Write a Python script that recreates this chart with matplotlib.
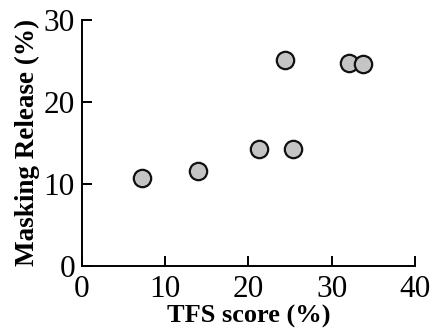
import matplotlib
matplotlib.use('Agg')
import matplotlib.pyplot as plt

# Data
tfs_score = [7.2, 14.0, 21.3, 25.4, 24.4, 32.1, 33.8]
masking_release = [10.7, 11.6, 14.2, 14.2, 25.1, 24.8, 24.6]

x_ticks = [0, 10, 20, 30, 40]
y_ticks = [0, 10, 20, 30]

plt.rcParams['font.family'] = ['Liberation Serif', 'DejaVu Serif']

fig = plt.figure(figsize=(4.31, 3.33), dpi=100)
ax = fig.add_axes([0.19, 0.202, 0.773, 0.738])

ax.plot(tfs_score, masking_release, linestyle='none', marker='o',
        markersize=12.5, markerfacecolor='#c4c4c4',
        markeredgecolor='#111111', markeredgewidth=1.6, clip_on=False)

ax.set_xlim(0, 40)
ax.set_ylim(0, 30)
ax.set_xticks(x_ticks)
ax.set_yticks(y_ticks)

for side in ['top', 'right']:
    ax.spines[side].set_visible(False)
for side in ['left', 'bottom']:
    ax.spines[side].set_linewidth(1.4)

ax.tick_params(direction='in', length=7, width=1.4, labelsize=22.5)
ax.tick_params(axis='x', pad=7)
ax.tick_params(axis='y', pad=5)

ax.set_xlabel('TFS score (%)', fontsize=19, fontweight='bold', labelpad=0)
ax.set_ylabel('Masking Release (%)', fontsize=19.5, fontweight='bold', labelpad=3)

fig.savefig('out.png', dpi=100)
